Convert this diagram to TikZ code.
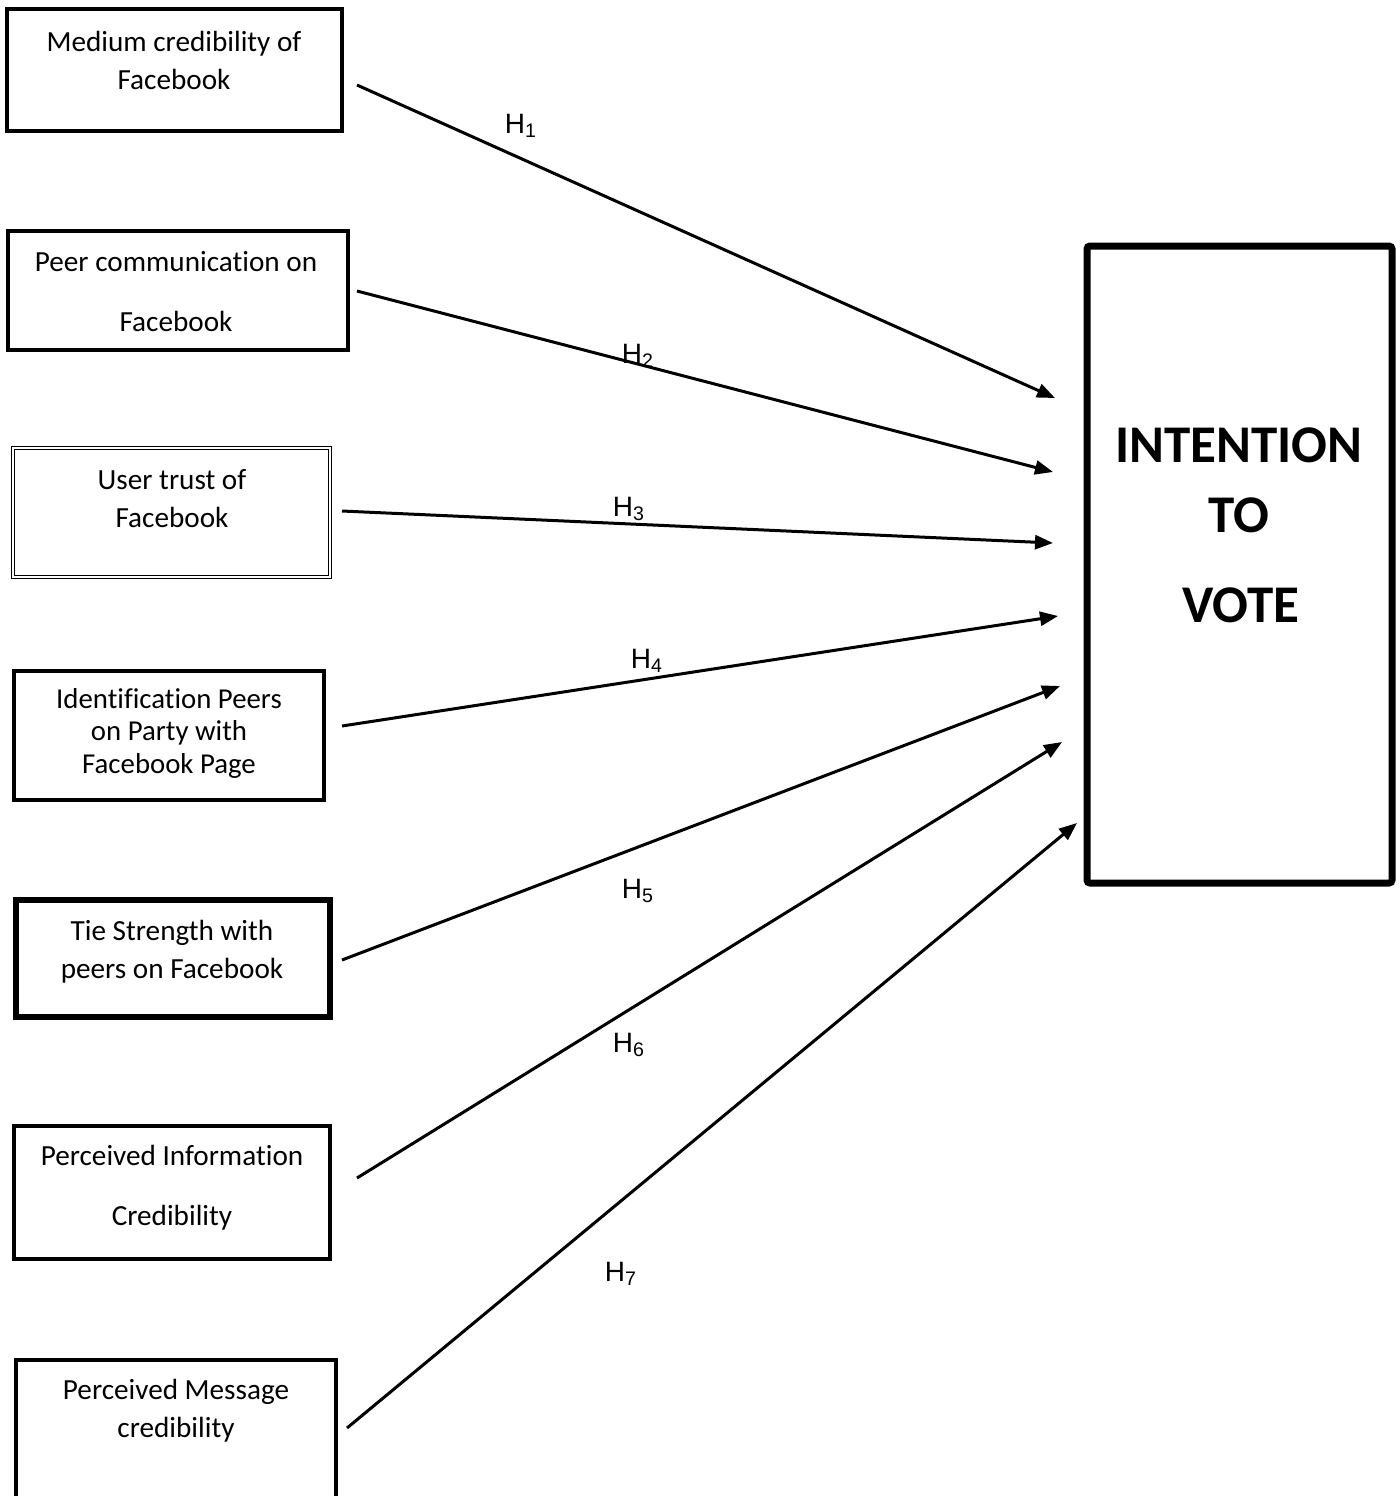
\documentclass[tikz,border=0pt]{standalone}
\usepackage{fontspec}
\setmainfont[Ligatures={NoCommon}]{Carlito}
\newfontfamily\hfont{Liberation Sans}
\usetikzlibrary{arrows.meta}
\begin{document}
\begin{tikzpicture}[x=0.5pt,y=-0.5pt,
  boxa/.style={draw=black,line width=2pt},
  boxb/.style={draw=black,line width=2.8pt},
  boxd/.style={draw=black,line width=0.6pt,double,double distance=1.2pt},
  bigbox/.style={draw=black,line width=3.5pt,rounded corners=1.5pt},
  lbl/.style={align=center,font=\fontsize{14.6pt}{19pt}\selectfont,inner sep=0pt},
  big/.style={font=\bfseries\fontsize{26.5pt}{30pt}\selectfont,inner sep=0pt,anchor=base},
  hyp/.style={font=\hfont\fontsize{14pt}{16pt}\selectfont,inner sep=0pt},
  conn/.style={line width=1.5pt,-{Triangle[length=9pt,width=7pt]}}]
\useasboundingbox (0,0) rectangle (1400,1496);
\begin{scope}
\clip (0,0) rectangle (1400,1496);
% boxes
\draw[boxa] (7,9) rectangle (342,131);
\draw[boxa] (8,231) rectangle (348,350);
\draw[boxd] (13,448) rectangle (330,577);
\draw[boxa] (14,671) rectangle (324,800);
\draw[boxb] (16,900) rectangle (330,1017);
\draw[boxa] (14,1126) rectangle (330,1259);
\draw[boxa] (16,1360) rectangle (336,1510);
\draw[bigbox] (1087,246) rectangle (1392,883);
\end{scope}
% texts
\node[lbl] (t1) at (174,60) {Medium credibility of\\Facebook};
\node[lbl,font=\fontsize{14.6pt}{30pt}\selectfont] (t2) at (176,292) {Peer communication on\\Facebook};
\node[lbl] (t3) at (172,499) {User trust of\\Facebook};
\node[lbl,font=\fontsize{14.4pt}{16.25pt}\selectfont] (t4) at (169,733) {Identification Peers\\on Party with\\Facebook Page};
\node[lbl] (t5) at (172,952) {Tie Strength with\\peers on Facebook};
\node[lbl,font=\fontsize{14.6pt}{30pt}\selectfont] (t6) at (172,1188) {Perceived Information\\Credibility};
\node[lbl] (t7) at (176,1411) {Perceived Message\\credibility};
\node[big] (iv1) at (1239,462) {INTENTION};
\node[big] (iv2) at (1239,532) {TO};
\node[big] (iv3) at (1241,622) {VOTE};
% connector endpoints
\coordinate (s1) at (357,85);   \coordinate (e1) at (1055,398);
\coordinate (s2) at (357,291);  \coordinate (e2) at (1053,472);
\coordinate (s3) at (342,511);  \coordinate (e3) at (1053,543);
\coordinate (s4) at (342,726);  \coordinate (e4) at (1058,616);
\coordinate (s5) at (342,960);  \coordinate (e5) at (1060,686);
\coordinate (s6) at (357,1178); \coordinate (e6) at (1062,742);
\coordinate (s7) at (347,1428); \coordinate (e7) at (1077,823);
\draw[conn] (s1) -- (e1);
\draw[conn] (s2) -- (e2);
\draw[conn] (s3) -- (e3);
\draw[conn] (s4) -- (e4);
\draw[conn] (s5) -- (e5);
\draw[conn] (s6) -- (e6);
\draw[conn] (s7) -- (e7);
% hypothesis labels
\node[hyp] (h1) at (521,126) {H\textsubscript{1}};
\node[hyp] (h2) at (638,356) {H\textsubscript{2}};
\node[hyp] (h3) at (629,509) {H\textsubscript{3}};
\node[hyp] (h4) at (647,661) {H\textsubscript{4}};
\node[hyp] (h5) at (638,891) {H\textsubscript{5}};
\node[hyp] (h6) at (629,1045) {H\textsubscript{6}};
\node[hyp] (h7) at (621,1274) {H\textsubscript{7}};
\end{tikzpicture}
\end{document}
